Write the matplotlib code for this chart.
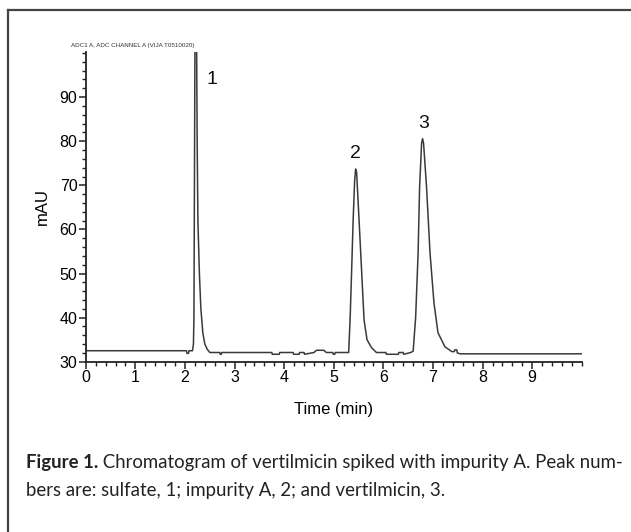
import matplotlib
matplotlib.use("Agg")
import matplotlib.pyplot as plt
from matplotlib.lines import Line2D
from matplotlib.ticker import MultipleLocator

# trace vertices (time in min, signal in mAU)
time = [0.0, 2.03, 2.04, 2.07, 2.08, 2.15, 2.17, 2.18, 2.19, 2.20, 2.215, 2.235,
        2.245, 2.26, 2.29, 2.32, 2.36, 2.40, 2.45, 2.50, 2.70, 2.71, 2.73, 2.74,
        3.75, 3.76, 3.90, 3.91, 4.18, 4.19, 4.30, 4.31, 4.40, 4.41, 4.60, 4.65,
        4.80, 4.85, 4.98, 4.99, 5.02, 5.03, 5.30, 5.33, 5.36, 5.39, 5.42, 5.44,
        5.46, 5.51, 5.56, 5.61, 5.67, 5.76, 5.86, 6.05, 6.06, 6.30, 6.31, 6.40,
        6.41, 6.55, 6.60, 6.65, 6.70, 6.73, 6.77, 6.79, 6.81, 6.87, 6.94, 7.02,
        7.10, 7.24, 7.38, 7.43, 7.44, 7.48, 7.49, 7.55, 10.0]
signal = [32.5, 32.5, 31.9, 31.9, 32.5, 32.5, 34.0, 40.0, 70.0, 100.0, 108.0, 100.0,
          80.0, 62.0, 50.0, 42.0, 36.5, 34.0, 32.8, 32.1, 32.1, 31.7, 31.7, 32.1,
          32.1, 31.7, 31.7, 32.1, 32.1, 31.7, 31.7, 32.1, 32.1, 31.7, 32.1, 32.6,
          32.6, 32.1, 32.1, 31.7, 31.7, 32.1, 32.1, 40.0, 50.8, 62.1, 71.0, 73.7,
          73.0, 62.0, 50.8, 39.5, 35.0, 33.2, 32.1, 32.1, 31.7, 31.7, 32.1, 32.1,
          31.7, 32.1, 32.4, 40.0, 54.7, 69.6, 79.5, 80.6, 79.5, 69.6, 54.7, 43.3,
          36.6, 33.4, 32.3, 32.3, 32.7, 32.7, 32.0, 31.8, 31.8]

peak_ids = ["1", "2", "3"]
peak_pos = [(2.55, 92.0), (5.44, 75.3), (6.81, 82.0)]

header = "ADC1 A, ADC CHANNEL A (VIJA T0510020)"
caption_bold = "Figure 1."
caption_rest = " Chromatogram of vertilmicin spiked with impurity A. Peak num-"
caption_line2 = "bers are: sulfate, 1; impurity A, 2; and vertilmicin, 3."

plt.rcParams["font.family"] = ["Liberation Sans", "DejaVu Sans"]

fig = plt.figure(figsize=(6.31, 5.32), dpi=100)
ax = fig.add_axes([0.136, 0.320, 0.786, 0.582])

ax.plot(time, signal, color="#3a3a3a", lw=1.1, clip_on=True)

ax.set_xlim(0, 10)
ax.set_ylim(30, 100.2)
ax.set_xticks(range(0, 10))
ax.xaxis.set_minor_locator(MultipleLocator(0.2))
ax.set_yticks(range(30, 100, 10))
ax.yaxis.set_minor_locator(MultipleLocator(2))
for s in ["top", "right"]:
    ax.spines[s].set_visible(False)
for s in ["left", "bottom"]:
    ax.spines[s].set_linewidth(1.3)
    ax.spines[s].set_color("#222222")
ax.tick_params(which="major", length=5, width=1.1, labelsize=11.5, pad=1,
               color="#222222")
ax.tick_params(which="minor", length=3, width=1.0, color="#222222")

ax.set_xlabel("Time (min)", fontsize=12, labelpad=12)
ax.set_ylabel("mAU", fontsize=12, labelpad=7)

for lab, (px, py) in zip(peak_ids, peak_pos):
    ax.text(px, py, lab, fontsize=14, ha="center", va="bottom", color="#111111")

ax.text(-0.03, 1.012, header, transform=ax.transAxes, fontsize=4.5,
        ha="left", va="bottom", color="#333333")

# outer frame (left and top edges)
fig.add_artist(Line2D([0.013, 0.013], [0.0, 0.981], transform=fig.transFigure,
                      color="#444444", lw=1.6))
fig.add_artist(Line2D([0.013, 1.0], [0.981, 0.981], transform=fig.transFigure,
                      color="#444444", lw=1.6))

cap_font = ["Lato", "Liberation Sans", "DejaVu Sans"]
t1 = fig.text(26 / 631, 1 - 468 / 532, caption_bold, fontsize=13.4,
              fontweight="bold", family=cap_font, color="#222222",
              ha="left", va="baseline")
fig.canvas.draw()
ext = t1.get_window_extent()
fig.text(ext.x1 / fig.bbox.width, 1 - 468 / 532, caption_rest, fontsize=13.4,
         family=cap_font, color="#222222", ha="left", va="baseline")
fig.text(26 / 631, 1 - 496 / 532, caption_line2, fontsize=13.4,
         family=cap_font, color="#222222", ha="left", va="baseline")

fig.savefig("out.png", dpi=100)
